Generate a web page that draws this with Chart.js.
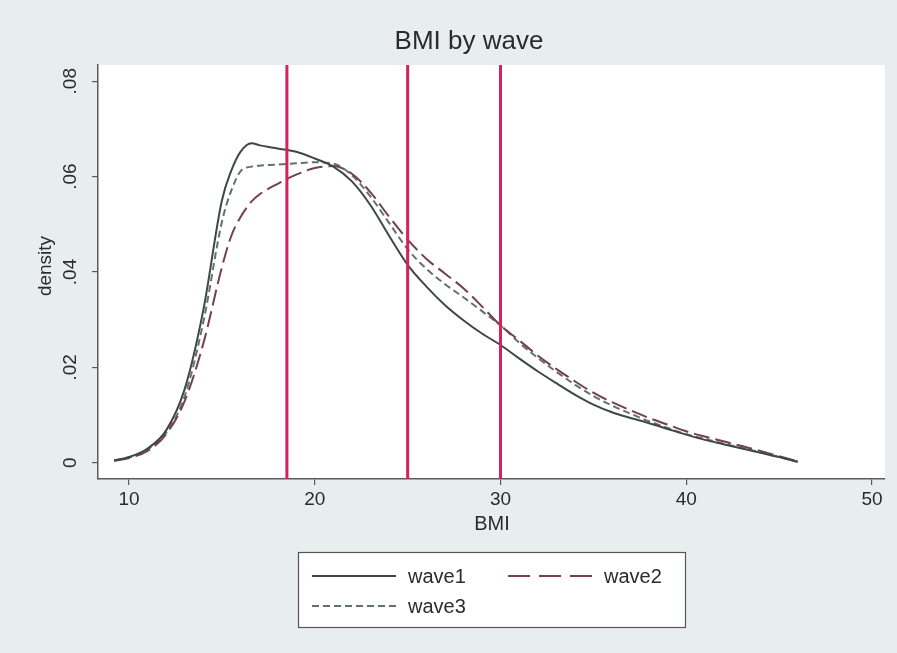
<!DOCTYPE html>
<html>
<head>
<meta charset="utf-8">
<script src="https://cdn.jsdelivr.net/npm/chart.js@4.4.0/dist/chart.umd.min.js"></script>
<style>
  html, body { margin: 0; padding: 0; background: #e8eeee; }
  #wrap { width: 897px; height: 653px; }
</style>
</head>
<body>
<div id="wrap"><canvas id="bmiChart" width="897" height="653"></canvas></div>
<script>
// BMI grid the densities were read at
const bmi = [9.2, 10, 11, 12, 13, 14, 15, 15.5, 16, 16.6, 17, 18, 19, 20, 21, 22, 23, 24, 25, 26, 27, 28, 29, 30,
  31, 32, 33, 34, 35, 36, 37, 38, 39, 40, 41, 42, 43, 44, 45, 46];

const wave1 = [0.0005, 0.0012, 0.003, 0.0068, 0.0155, 0.032, 0.055, 0.0612, 0.0652, 0.067, 0.0666, 0.0659, 0.0652, 0.0638,
  0.0621, 0.059, 0.054, 0.0476, 0.0415, 0.037, 0.0331, 0.0299, 0.0271, 0.0247, 0.0219, 0.0192, 0.0167, 0.0143, 0.0122,
  0.0106, 0.0094, 0.0083, 0.0071, 0.0059, 0.0048, 0.0039, 0.003, 0.0021, 0.0012, 0.0002];

const wave2 = [0.0004, 0.001, 0.0025, 0.006, 0.013, 0.025, 0.041, 0.0475, 0.0515, 0.0548, 0.0562, 0.0585, 0.0604, 0.0618,
  0.0622, 0.0606, 0.0567, 0.0516, 0.0468, 0.0428, 0.0397, 0.0366, 0.0328, 0.0288, 0.0257, 0.0225, 0.0197, 0.0171, 0.0147,
  0.0127, 0.011, 0.0094, 0.008, 0.0066, 0.0055, 0.0045, 0.0035, 0.0025, 0.0014, 0.0003];

const wave3 = [0.0005, 0.0011, 0.0028, 0.0063, 0.014, 0.0295, 0.0505, 0.057, 0.0611, 0.0621, 0.0623, 0.0625, 0.0628, 0.063,
  0.0627, 0.0603, 0.0558, 0.0503, 0.0448, 0.0407, 0.0375, 0.0347, 0.0318, 0.0288, 0.0252, 0.022, 0.0191, 0.0164, 0.014,
  0.012, 0.0103, 0.0087, 0.0073, 0.006, 0.005, 0.004, 0.0031, 0.0022, 0.0012, 0.0002];

// BMI cut-offs drawn as red vertical lines
const cutoffs = [18.5, 25, 30];

const xTicks = [10, 20, 30, 40, 50];
const yTicks = [0, 0.02, 0.04, 0.06, 0.08];
const yTickLabels = ['0', '.02', '.04', '.06', '.08'];

const xMin = 8.33, xMax = 50.7;
const yMin = -0.0034, yMax = 0.0834;

const FONT = '"Liberation Sans", Arial, Helvetica, sans-serif';
const TEXT = '#2b2b2b';
const AXIS = '#5a5a5a';

const waves = [
  { label: 'wave1', data: wave1, color: '#3e4848', dash: [], legendDash: [] },
  { label: 'wave2', data: wave2, color: '#74404d', dash: [16, 6], legendDash: [22, 9] },
  { label: 'wave3', data: wave3, color: '#627070', dash: [7, 4], legendDash: [7, 4] }
];

const toPoints = (ys) => bmi.map((x, i) => ({ x: x, y: ys[i] }));

// red lines come first so they are painted on top
const datasets = cutoffs.map((c) => ({
  label: 'cut ' + c,
  data: [{ x: c, y: yMin }, { x: c, y: yMax }],
  borderColor: '#d8215c',
  borderWidth: 3,
  pointRadius: 0,
  tension: 0
})).concat(waves.map((w) => ({
  label: w.label,
  data: toPoints(w.data),
  borderColor: w.color,
  borderWidth: 2,
  borderDash: w.dash,
  pointRadius: 0,
  cubicInterpolationMode: 'monotone'
})));

const bgPlugin = {
  id: 'bg',
  beforeDraw(chart) {
    const { ctx, chartArea: a } = chart;
    ctx.save();
    ctx.fillStyle = '#e8eeee';
    ctx.fillRect(0, 0, chart.width, chart.height);
    ctx.fillStyle = '#ffffff';
    ctx.fillRect(a.left, a.top, a.right - a.left, a.bottom - a.top);
    ctx.restore();
  }
};

const textPlugin = {
  id: 'texts',
  afterDraw(chart) {
    const { ctx } = chart;
    const y = chart.scales.y;
    ctx.save();
    ctx.fillStyle = TEXT;

    // rotated y tick labels, Stata style
    ctx.font = '19px ' + FONT;
    ctx.textAlign = 'center';
    ctx.textBaseline = 'middle';
    yTicks.forEach((v, i) => {
      ctx.save();
      ctx.translate(71, y.getPixelForValue(v));
      ctx.rotate(-Math.PI / 2);
      ctx.fillText(yTickLabels[i], 0, 0);
      ctx.restore();
    });

    // axis titles
    ctx.font = '19px ' + FONT;
    ctx.save();
    ctx.translate(46, 266);
    ctx.rotate(-Math.PI / 2);
    ctx.fillText('density', 0, 0);
    ctx.restore();
    ctx.font = '20px ' + FONT;
    ctx.fillText('BMI', 492, 524);

    // main title
    ctx.font = '26px ' + FONT;
    ctx.fillText('BMI by wave', 469, 42);

    // legend box
    ctx.fillStyle = '#ffffff';
    ctx.fillRect(298, 552, 387, 75);
    ctx.strokeStyle = '#555';
    ctx.lineWidth = 1.2;
    ctx.strokeRect(298.5, 552.5, 387, 75);
    const spots = [[312, 576], [508, 576], [312, 606]];
    ctx.font = '20px ' + FONT;
    ctx.textAlign = 'left';
    waves.forEach((w, i) => {
      const [sx, sy] = spots[i];
      ctx.strokeStyle = w.color;
      ctx.lineWidth = 2;
      ctx.setLineDash(w.legendDash);
      ctx.beginPath();
      ctx.moveTo(sx, sy);
      ctx.lineTo(sx + 84, sy);
      ctx.stroke();
      ctx.setLineDash([]);
      ctx.fillStyle = TEXT;
      ctx.fillText(w.label, sx + 96, sy + 1);
    });
    ctx.restore();
  }
};

new Chart(document.getElementById('bmiChart'), {
  type: 'line',
  data: { datasets: datasets },
  options: {
    responsive: false,
    animation: false,
    layout: { padding: { left: 0, top: 65, right: 12, bottom: 0 } },
    plugins: {
      legend: { display: false },
      tooltip: { enabled: false },
      title: { display: false }
    },
    scales: {
      x: {
        type: 'linear',
        min: xMin,
        max: xMax,
        afterBuildTicks: (s) => { s.ticks = xTicks.map((v) => ({ value: v })); },
        afterFit: (s) => { s.height = 174; },
        grid: { drawOnChartArea: false, drawTicks: true, tickLength: 6, color: AXIS, lineWidth: 1.2 },
        border: { display: true, color: AXIS, width: 1.5 },
        ticks: { color: TEXT, padding: 3, maxRotation: 0, font: { family: FONT, size: 19 } }
      },
      y: {
        type: 'linear',
        min: yMin,
        max: yMax,
        afterBuildTicks: (s) => { s.ticks = yTicks.map((v) => ({ value: v })); },
        afterFit: (s) => { s.width = 98; },
        grid: { drawOnChartArea: false, drawTicks: true, tickLength: 6, color: AXIS, lineWidth: 1.2 },
        border: { display: true, color: AXIS, width: 1.5 },
        ticks: { display: false }
      }
    }
  },
  plugins: [bgPlugin, textPlugin]
});
</script>
</body>
</html>
